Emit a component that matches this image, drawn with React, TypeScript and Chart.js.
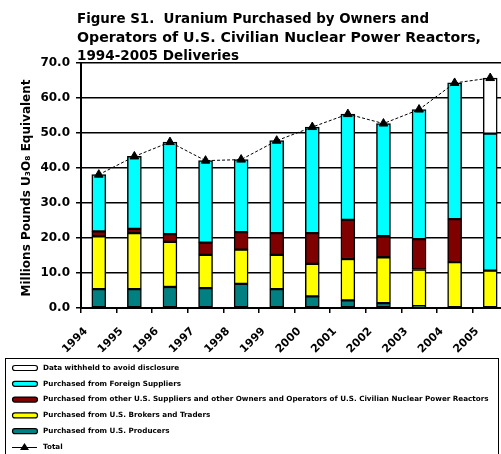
import React, { useEffect, useRef } from 'react';
import { Chart, registerables } from 'chart.js';

Chart.register(...registerables);

const categories = ['1994', '1995', '1996', '1997', '1998', '1999', '2000', '2001', '2002', '2003', '2004', '2005'];
const usProducers = [5.4, 5.4, 6.0, 5.7, 6.9, 5.4, 3.3, 2.2, 1.4, 0.5, null, null];
const usBrokers = [15.1, 16.0, 12.9, 9.5, 9.8, 9.8, 9.3, 11.8, 13.1, 10.5, 13.1, 10.7];
const otherUS = [1.4, 1.2, 2.2, 3.5, 5.0, 6.2, 8.8, 11.2, 6.0, 8.7, 12.3, null];
const foreign = [16.2, 20.7, 26.3, 23.4, 20.7, 26.4, 30.3, 30.2, 32.2, 37.0, 38.9, 39.1];
const withheld = [null, null, null, null, null, null, null, null, null, null, null, 15.9];
const totals = [38.1, 43.3, 47.4, 42.1, 42.4, 47.8, 51.7, 55.4, 52.7, 56.7, 64.3, 65.7];

const titleLines = [
  'Figure S1.  Uranium Purchased by Owners and',
  'Operators of U.S. Civilian Nuclear Power Reactors,',
  '1994-2005 Deliveries',
];
const yTitle = 'Millions Pounds U\u2083O\u2088 Equivalent';
const yTicks = { min: 0, max: 70, step: 10 };

const FONT = '"DejaVu Sans", sans-serif';

export default function App() {
  const ref = useRef<HTMLCanvasElement>(null);

  useEffect(() => {
    const canvas = ref.current;
    if (!canvas) return;

    const titleWidths = [352, 404, 162];

    const textPlugin = {
      id: 'textPlugin',
      afterDraw(chart: any) {
        const ctx = chart.ctx as CanvasRenderingContext2D;
        ctx.save();
        ctx.fillStyle = '#000';
        ctx.font = `bold 14.2px ${FONT}`;
        ctx.textAlign = 'left';
        ctx.textBaseline = 'alphabetic';
        titleLines.forEach((t, i) => ctx.fillText(t, 77, 23 + i * 18.6, titleWidths[i]));
        ctx.save();
        ctx.translate(27, 188);
        ctx.rotate(-Math.PI / 2);
        ctx.textAlign = 'center';
        ctx.textBaseline = 'middle';
        ctx.font = `bold 12px ${FONT}`;
        ctx.fillText(yTitle, 0, 0);
        ctx.restore();

        // legend
        const ds = chart.data.datasets;
        ctx.strokeStyle = '#000';
        ctx.lineWidth = 1;
        ctx.strokeRect(5.5, 358.5, 493, 120);
        ctx.font = `bold 7.2px ${FONT}`;
        ctx.textBaseline = 'middle';
        const order = [4, 3, 2, 1, 0];
        order.forEach((di, i) => {
          const y = 368 + i * 15.8;
          ctx.beginPath();
          (ctx as any).roundRect(12.5, y - 2.5, 25, 5, 2.5);
          ctx.fillStyle = ds[di].backgroundColor;
          ctx.fill();
          ctx.lineWidth = 1.2;
          ctx.stroke();
          ctx.fillStyle = '#000';
          ctx.fillText(ds[di].label, 43, y);
        });
        const ty = 368 + 5 * 15.8;
        ctx.beginPath();
        ctx.lineWidth = 1;
        ctx.moveTo(12, ty + 0.5);
        ctx.lineTo(37, ty + 0.5);
        ctx.stroke();
        ctx.beginPath();
        ctx.moveTo(24.5, ty - 4);
        ctx.lineTo(29, ty + 3);
        ctx.lineTo(20, ty + 3);
        ctx.closePath();
        ctx.fillStyle = '#000';
        ctx.fill();
        ctx.fillText(ds[5].label, 43, ty);
        ctx.restore();
      },
    };

    const barCommon = {
      type: 'bar' as const,
      stack: 'bars',
      borderColor: '#000',
      borderWidth: 1.5,
      borderSkipped: false,
      barThickness: 14,
      order: 1,
    };

    const chart = new Chart(canvas, {
      type: 'bar',
      data: {
        labels: categories,
        datasets: [
          { ...barCommon, label: 'Purchased from U.S. Producers', data: usProducers, backgroundColor: '#008080' },
          { ...barCommon, label: 'Purchased from U.S. Brokers and Traders', data: usBrokers, backgroundColor: '#FFFF00' },
          { ...barCommon, label: 'Purchased from other U.S. Suppliers and other Owners and Operators of U.S. Civilian Nuclear Power Reactors', data: otherUS, backgroundColor: '#800000' },
          { ...barCommon, label: 'Purchased from Foreign Suppliers', data: foreign, backgroundColor: '#00FFFF' },
          { ...barCommon, label: 'Data withheld to avoid disclosure', data: withheld, backgroundColor: '#FFFFFF' },
          {
            type: 'line',
            label: 'Total',
            data: totals,
            stack: 'total',
            order: 0,
            borderColor: '#000',
            borderWidth: 1,
            borderDash: [3, 2],
            pointStyle: 'triangle',
            pointRadius: 5,
            pointBackgroundColor: '#000',
            pointBorderColor: '#000',
            fill: false,
          } as any,
        ],
      },
      options: {
        responsive: false,
        animation: false,
        layout: { padding: { top: 63, bottom: 96, left: 0, right: 12 } },
        plugins: { legend: { display: false }, tooltip: { enabled: false }, title: { display: false } },
        scales: {
          x: {
            stacked: true,
            grid: { drawOnChartArea: false, color: '#000', tickLength: 5, lineWidth: 1.5 },
            border: { color: '#000', width: 2 },
            ticks: {
              minRotation: 45,
              maxRotation: 45,
              autoSkip: false,
              labelOffset: -13,
              padding: 12,
              color: '#000',
              font: { family: FONT, size: 11, weight: 'bold' },
            },
            afterFit: (s: any) => { s.height = 50; },
          },
          y: {
            stacked: true,
            min: yTicks.min,
            max: yTicks.max,
            ticks: {
              stepSize: yTicks.step,
              callback: (v: any) => Number(v).toFixed(1),
              color: '#000',
              padding: 6,
              font: { family: FONT, size: 12, weight: 'bold' },
            },
            grid: { color: '#000', lineWidth: 1.5, tickLength: 5 },
            border: { color: '#000', width: 2 },
            afterFit: (s: any) => { s.width = 81; },
          },
        },
      },
      plugins: [textPlugin],
    });

    return () => chart.destroy();
  }, []);

  return (
    <div style={{ position: 'absolute', left: 0, top: 0, width: 501, height: 454, overflow: 'hidden', background: '#fff' }}>
      <canvas ref={ref} width={520} height={454} style={{ display: 'block', width: 520, height: 454 }} />
    </div>
  );
}
